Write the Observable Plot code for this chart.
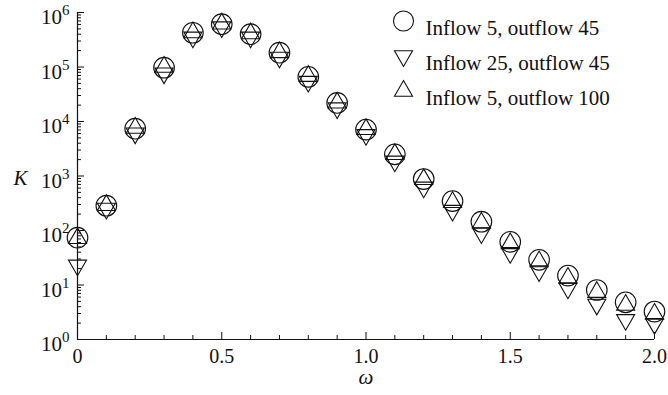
<!DOCTYPE html>
<html>
<head>
<meta charset="utf-8">
<script src="https://cdn.jsdelivr.net/npm/d3@7"></script>
<script src="https://cdn.jsdelivr.net/npm/@observablehq/plot@0.6"></script>
<style>
  html, body { margin: 0; padding: 0; background: #fff; }
  #chart svg { display: block; }
</style>
</head>
<body>
<div id="chart"></div>
<script>
// ---- data ----
const omega = [0, 0.1, 0.2, 0.3, 0.4, 0.5, 0.6, 0.7, 0.8, 0.9, 1.0,
               1.1, 1.2, 1.3, 1.4, 1.5, 1.6, 1.7, 1.8, 1.9, 2.0];
// Inflow 5, outflow 45 (circles)
const kInflow5Out45 = [74, 285, 7400, 97000, 425000, 610000, 400000, 183000, 66000, 21900, 7100,
                       2500, 880, 347, 145, 62, 29, 14.9, 8.1, 4.8, 3.26];
// Inflow 25, outflow 45 (down triangles)
const kInflow25Out45 = [23, 253, 6100, 77000, 350000, 540000, 350000, 150000, 54000, 17600, 5700,
                        1860, 620, 232, 90, 39, 18, 8.7, 4.4, 2.3, 1.95];
// Inflow 5, outflow 100 (up triangles)
const kInflow5Out100 = [72, 290, 7600, 100000, 430000, 620000, 410000, 185000, 68000, 22000, 7200,
                        2500, 870, 330, 138, 58, 27, 13.5, 7.4, 4.3, 2.95];

const seriesNames = ["Inflow 5, outflow 45", "Inflow 25, outflow 45", "Inflow 5, outflow 100"];

const xTickValues = [0, 0.5, 1.0, 1.5, 2.0];
const xTickLabels = ["0", "0.5", "1.0", "1.5", "2.0"];
const xMinorTicks = [0.1, 0.2, 0.3, 0.4, 0.6, 0.7, 0.8, 0.9, 1.1, 1.2, 1.3, 1.4, 1.6, 1.7, 1.8, 1.9];
const yTickValues = [1, 10, 100, 1000, 10000, 100000, 1000000];
const yTickExponents = ["0", "1", "2", "3", "4", "5", "6"];

// ---- helpers ----
const triangleDown = {
  draw(context, size) {
    const s3 = Math.sqrt(3);
    const y = Math.sqrt(size / (s3 * 3));
    context.moveTo(0, y * 2);
    context.lineTo(-s3 * y, -y);
    context.lineTo(s3 * y, -y);
    context.closePath();
  }
};
const triangleUp = d3.symbolTriangle;

const yMinorTicks = d3.scaleLog().domain([1, 1e6]).ticks().filter(v => !yTickValues.includes(v));

const rows = (arr) => omega.map((w, i) => ({omega: w, K: arr[i]}));

const series = [
  {name: seriesNames[0], data: rows(kInflow5Out45), symbol: "circle", r: 10.3},
  {name: seriesNames[1], data: rows(kInflow25Out45), symbol: triangleDown, r: 6.7},
  {name: seriesNames[2], data: rows(kInflow5Out100), symbol: triangleUp, r: 6.7}
];

const FONT = "'Liberation Serif', 'Times New Roman', Times, serif";
const ink = "#111";

const dataMarks = series.map(s =>
  Plot.dot(s.data, {x: "omega", y: "K", symbol: s.symbol, r: s.r, fill: "none", stroke: ink, strokeWidth: 1.1})
);

const legendMarks = series.flatMap((s, i) => [
  Plot.dot([s.name], {frameAnchor: "top-right", dx: -251, dy: 8.5 + 35 * i,
    symbol: s.symbol, r: s.symbol === "circle" ? 10 : 6.7, fill: "none", stroke: ink, strokeWidth: 1.1}),
  Plot.text([s.name], {frameAnchor: "top-right", dx: -229, dy: 8 + 35 * i, text: d => d,
    textAnchor: "start", fontSize: 21, fill: ink})
]);

const plot = Plot.plot({
  width: 668,
  height: 395,
  marginLeft: 77,
  marginRight: 14,
  marginTop: 12,
  marginBottom: 56,
  x: {domain: [0, 2]},
  y: {type: "log", domain: [1, 1e6]},
  style: {fontFamily: FONT, background: "#fff", color: ink, overflow: "visible"},
  marks: [
    // axis lines
    Plot.ruleX([0], {stroke: ink, strokeWidth: 1.2}),
    Plot.ruleY([1], {stroke: ink, strokeWidth: 1.2}),
    // x ticks (inward)
    Plot.axisX(xMinorTicks, {tickSize: -4, tickFormat: () => "", label: null, stroke: ink}),
    Plot.axisX(xTickValues, {tickSize: -7, tickPadding: 16, label: null, stroke: ink,
      tickFormat: d => xTickLabels[xTickValues.indexOf(d)], fontSize: 20, fill: ink}),
    // y ticks (inward)
    Plot.axisY(yMinorTicks, {tickSize: -4, tickFormat: () => "", label: null, stroke: ink}),
    Plot.axisY(yTickValues, {tickSize: -7, tickFormat: () => "", label: null, stroke: ink}),
    // y tick labels 10^n
    Plot.text(yTickValues, {x: 0, y: d => d, text: () => "10", textAnchor: "end",
      dx: -15.5, dy: 5, fontSize: 21, fill: ink}),
    Plot.text(yTickValues, {x: 0, y: d => d, text: (d, i) => yTickExponents[i], textAnchor: "start",
      dx: -15.5, dy: -2, fontSize: 15, fill: ink}),
    // axis titles
    Plot.text(["K"], {frameAnchor: "left", dx: -64, dy: 2, text: d => d, fontSize: 21,
      fontStyle: "italic", fill: ink}),
    Plot.text(["\u03c9"], {frameAnchor: "bottom", dy: 44, text: d => d, fontSize: 21,
      fontStyle: "italic", fill: ink}),
    // data
    ...dataMarks,
    // legend
    ...legendMarks
  ]
});

document.getElementById("chart").appendChild(plot);
</script>
</body>
</html>
